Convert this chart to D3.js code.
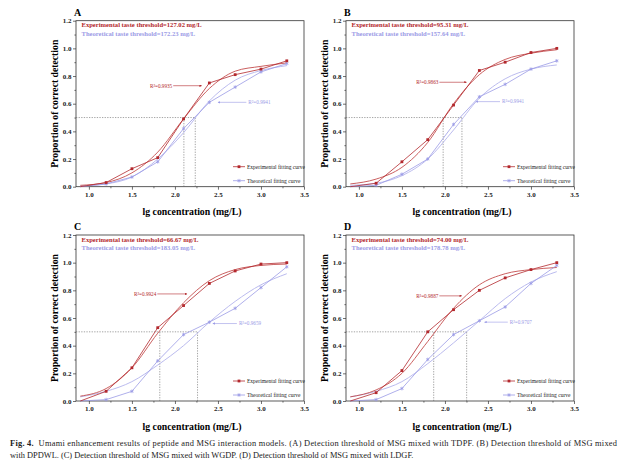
<!DOCTYPE html>
<html>
<head>
<meta charset="utf-8">
<script src="https://cdn.jsdelivr.net/npm/d3@7/dist/d3.min.js"></script>
<style>
  body { margin: 0; background: #fff; }
  svg text { font-family: "Liberation Serif", "Times New Roman", serif; }
</style>
</head>
<body>
<svg id="chart" width="624" height="464"></svg>
<script>
// lg concentration of the tested solutions
const lgConc = [0.9, 1.2, 1.5, 1.8, 2.1, 2.4, 2.7, 3.0, 3.3]
const xTicks = [1.0, 1.5, 2.0, 2.5, 3.0, 3.5]
const yTicks = [0.0, 0.2, 0.4, 0.6, 0.8, 1.0, 1.2]

// measured proportions (points)
const expA = [0.0, 0.03, 0.13, 0.21, 0.49, 0.75, 0.81, 0.85, 0.91]
const theoA = [0.0, 0.02, 0.07, 0.18, 0.42, 0.61, 0.72, 0.83, 0.89]
const expB = [0.0, 0.025, 0.18, 0.34, 0.59, 0.84, 0.90, 0.97, 1.0]
const theoB = [0.0, 0.01, 0.09, 0.20, 0.45, 0.65, 0.74, 0.85, 0.91]
const expC = [0.0, 0.07, 0.24, 0.53, 0.69, 0.85, 0.94, 0.99, 1.0]
const theoC = [0.0, 0.01, 0.07, 0.29, 0.48, 0.57, 0.67, 0.82, 0.97]
const expD = [0.0, 0.06, 0.22, 0.50, 0.66, 0.80, 0.89, 0.95, 1.0]
const theoD = [0.0, 0.01, 0.09, 0.30, 0.48, 0.58, 0.68, 0.85, 0.98]

// fitting curves at the same lg concentrations
const expFitA = [0.01, 0.03, 0.10, 0.25, 0.49, 0.71, 0.835, 0.87, 0.895]
const theoFitA = [0.005, 0.02, 0.07, 0.20, 0.39, 0.62, 0.77, 0.84, 0.875]
const expFitB = [0.02, 0.055, 0.14, 0.32, 0.60, 0.81, 0.92, 0.965, 0.99]
const theoFitB = [0.01, 0.025, 0.08, 0.20, 0.41, 0.64, 0.78, 0.85, 0.88]
const expFitC = [0.035, 0.09, 0.24, 0.49, 0.71, 0.87, 0.95, 0.98, 0.99]
const theoFitC = [0.03, 0.07, 0.14, 0.26, 0.40, 0.57, 0.72, 0.84, 0.92]
const expFitD = [0.03, 0.08, 0.20, 0.43, 0.67, 0.84, 0.92, 0.95, 0.965]
const theoFitD = [0.03, 0.07, 0.14, 0.27, 0.42, 0.58, 0.74, 0.86, 0.935]

// thresholds (mg/L) and fit R2
const expThreshold = [127.02, 95.31, 66.67, 74.00]
const theoThreshold = [172.23, 157.64, 183.05, 178.78]
const expR2 = ['0.9935', '0.9863', '0.9924', '0.9887']
const theoR2 = ['0.9941', '0.9941', '0.9659', '0.9707']
// R2 arrows: [x start, x end, y]
const expArrow = [[1.98, 2.31, 0.73], [1.935, 2.25, 0.755], [1.795, 2.14, 0.774], [1.935, 2.195, 0.76]]
const theoArrow = [[2.83, 2.50, 0.61], [2.64, 2.36, 0.615], [2.72, 2.44, 0.56], [2.73, 2.46, 0.57]]

const panelNames = ['A', 'B', 'C', 'D']

const red = '#b3282d'
const redFit = '#c44d4d'
const blue = '#9b9be6'
const blueFit = '#b3b3ec'

const W = 228
const H = 166
const spots = [[76, 20.7], [346, 20.7], [76, 235], [346, 235]]

const svg = d3.select('#chart')

const defs = svg.append('defs')
;[['ar-red', red], ['ar-blue', blue]].forEach(([id, c]) => {
  defs.append('marker')
    .attr('id', id)
    .attr('viewBox', '0 0 10 10')
    .attr('refX', 9).attr('refY', 5)
    .attr('markerWidth', 5).attr('markerHeight', 4)
    .attr('orient', 'auto')
    .append('path')
    .attr('d', 'M0,0 L10,5 L0,10 z')
    .attr('fill', c)
})

const x = d3.scaleLinear().domain([0.85, 3.5]).range([0, W])
const y = d3.scaleLinear().domain([0, 1.2]).range([H, 0])

const panels = panelNames.map((name, i) => ({
  name,
  left: spots[i][0],
  top: spots[i][1],
  exp: [expA, expB, expC, expD][i],
  theo: [theoA, theoB, theoC, theoD][i],
  expFit: [expFitA, expFitB, expFitC, expFitD][i],
  theoFit: [theoFitA, theoFitB, theoFitC, theoFitD][i],
  expThr: expThreshold[i],
  theoThr: theoThreshold[i],
  expR2: expR2[i],
  theoR2: theoR2[i],
  expArrow: expArrow[i],
  theoArrow: theoArrow[i]
}))

const polyLine = d3.line()
  .x(d => x(d[0]))
  .y(d => y(d[1]))
  .curve(d3.curveLinear)

const fitLine = d3.line()
  .x(d => x(d[0]))
  .y(d => y(d[1]))
  .curve(d3.curveMonotoneX)

const drawPanel = p => {
  const g = svg.append('g').attr('transform', 'translate(' + p.left + ',' + p.top + ')')

  // panel letter
  g.append('text')
    .attr('x', -2).attr('y', -5)
    .style('font-size', '10px').style('font-weight', 'bold')
    .text(p.name)

  // minor ticks
  const xMinor = d3.axisBottom(x).tickValues([1.25, 1.75, 2.25, 2.75, 3.25]).tickSize(1.6).tickFormat('')
  const yMinor = d3.axisLeft(y).tickValues([0.1, 0.3, 0.5, 0.7, 0.9, 1.1]).tickSize(1.6).tickFormat('')
  g.append('g').attr('transform', 'translate(0,' + H + ')').call(xMinor)
  g.append('g').call(yMinor)

  const xAxis = g.append('g')
    .attr('transform', 'translate(0,' + H + ')')
    .call(d3.axisBottom(x).tickValues(xTicks).tickSize(3).tickPadding(2).tickFormat(d3.format('.1f')))
  const yAxis = g.append('g')
    .call(d3.axisLeft(y).tickValues(yTicks).tickSize(3).tickPadding(1.5).tickFormat(d3.format('.1f')))
  ;[xAxis, yAxis].forEach(a => {
    a.attr('font-family', null).attr('font-size', null)
    a.selectAll('text').style('font-size', '7px').style('font-weight', 'bold').attr('fill', '#222')
  })
  g.selectAll('.domain').remove()
  g.selectAll('.tick line').attr('stroke', '#333').attr('stroke-width', 0.7)

  // frame
  g.append('rect')
    .attr('width', W).attr('height', H)
    .attr('fill', 'none').attr('stroke', '#333').attr('stroke-width', 0.8)

  // axis titles
  g.append('text')
    .attr('x', W / 2 + 2).attr('y', H + 28.5)
    .attr('text-anchor', 'middle')
    .style('font-size', '9.8px').style('font-weight', 'bold')
    .text('lg concentration (mg/L)')
  g.append('text')
    .attr('transform', 'translate(-18,' + (H / 2) + ') rotate(-90)')
    .attr('text-anchor', 'middle')
    .style('font-size', '9.7px').style('font-weight', 'bold')
    .text('Proportion of correct detection')

  // threshold guides
  const ex = Math.log10(p.expThr)
  const tx = Math.log10(p.theoThr)
  const guide = g.append('g')
    .attr('fill', 'none').attr('stroke', '#666')
    .attr('stroke-width', 0.6).attr('stroke-dasharray', '1.3,1.3')
  guide.append('line')
    .attr('x1', x(0.85)).attr('x2', x(Math.max(ex, tx)))
    .attr('y1', y(0.5)).attr('y2', y(0.5))
  ;[ex, tx].forEach(v => {
    guide.append('line')
      .attr('x1', x(v)).attr('x2', x(v))
      .attr('y1', y(0)).attr('y2', y(0.5))
  })

  // fitting curves
  g.append('path')
    .attr('d', fitLine(lgConc.map((c, i) => [c, p.theoFit[i]])))
    .attr('fill', 'none').attr('stroke', blueFit).attr('stroke-width', 0.9)
  g.append('path')
    .attr('d', fitLine(lgConc.map((c, i) => [c, p.expFit[i]])))
    .attr('fill', 'none').attr('stroke', redFit).attr('stroke-width', 0.9)

  // point lines
  const theoPts = lgConc.map((c, i) => [c, p.theo[i]])
  const expPts = lgConc.map((c, i) => [c, p.exp[i]])
  g.append('path')
    .attr('d', polyLine(theoPts))
    .attr('fill', 'none').attr('stroke', blue).attr('stroke-width', 0.8)
  g.append('path')
    .attr('d', polyLine(expPts))
    .attr('fill', 'none').attr('stroke', red).attr('stroke-width', 0.8)

  const star = d3.symbol().type(d3.symbolAsterisk).size(9)
  g.selectAll('.tp').data(theoPts.slice(1)).join('path')
    .attr('transform', d => 'translate(' + x(d[0]) + ',' + y(d[1]) + ')')
    .attr('d', star).attr('stroke', blue).attr('stroke-width', 0.8).attr('fill', 'none')
  g.selectAll('.ep').data(expPts.slice(1)).join('rect')
    .attr('x', d => x(d[0]) - 1.4).attr('y', d => y(d[1]) - 1.4)
    .attr('width', 2.8).attr('height', 2.8)
    .attr('fill', red)

  // header texts
  g.append('text')
    .attr('x', 5.5).attr('y', 6.8)
    .attr('fill', red)
    .style('font-size', '6.6px').style('font-weight', 'bold')
    .text('Experimental taste threshold=' + d3.format('.2f')(p.expThr) + ' mg/L')
  g.append('text')
    .attr('x', 5.5).attr('y', 15.2)
    .attr('fill', blue)
    .style('font-size', '6.6px').style('font-weight', 'bold')
    .text('Theoretical taste threshold=' + d3.format('.2f')(p.theoThr) + ' mg/L')

  // R2 annotations
  const ea = p.expArrow
  g.append('line')
    .attr('x1', x(ea[0])).attr('x2', x(ea[1]))
    .attr('y1', y(ea[2])).attr('y2', y(ea[2]))
    .attr('stroke', red).attr('stroke-width', 0.6)
    .attr('marker-end', 'url(#ar-red)')
  g.append('text')
    .attr('x', x(ea[0]) - 1).attr('y', y(ea[2]) + 1.8)
    .attr('text-anchor', 'end')
    .attr('fill', red)
    .style('font-size', '5.2px')
    .text('R\u00b2=' + p.expR2)
  const ta = p.theoArrow
  g.append('line')
    .attr('x1', x(ta[0])).attr('x2', x(ta[1]))
    .attr('y1', y(ta[2])).attr('y2', y(ta[2]))
    .attr('stroke', blue).attr('stroke-width', 0.6)
    .attr('marker-end', 'url(#ar-blue)')
  g.append('text')
    .attr('x', x(ta[0]) + 2).attr('y', y(ta[2]) + 1.8)
    .attr('fill', blue)
    .style('font-size', '5.2px')
    .text('R\u00b2=' + p.theoR2)

  // legend
  const leg = g.append('g').attr('transform', 'translate(157,146)')
  const items = [['Experimental fitting curve', red, 'rect'], ['Theoretical fitting curve', blue, 'star']]
  items.forEach(([label, c, mark], i) => {
    const row = leg.append('g').attr('transform', 'translate(0,' + (i * 14) + ')')
    row.append('line').attr('x1', 0).attr('x2', 12).attr('stroke', c).attr('stroke-width', 0.8)
    if (mark === 'rect') {
      row.append('rect').attr('x', 4.6).attr('y', -1.4).attr('width', 2.8).attr('height', 2.8).attr('fill', c)
    } else {
      row.append('path').attr('transform', 'translate(6,0)').attr('d', star)
        .attr('stroke', c).attr('stroke-width', 0.8).attr('fill', 'none')
    }
    row.append('text')
      .attr('x', 14).attr('y', 1.9)
      .attr('fill', '#222')
      .style('font-size', '5.5px')
      .text(label)
  })
}

panels.forEach(drawPanel)

// figure caption
const cap = svg.append('g').style('font-size', '8.4px').attr('fill', '#222')
const line1 = cap.append('text').attr('x', 10).attr('y', 446)
  .attr('textLength', 607).attr('lengthAdjust', 'spacing')
line1.append('tspan').style('font-weight', 'bold').text('Fig. 4.')
line1.append('tspan').text('\u00a0 Umami enhancement results of peptide and MSG interaction models. (A) Detection threshold of MSG mixed with TDPF. (B) Detection threshold of MSG mixed')
cap.append('text').attr('x', 10).attr('y', 458)
  .text('with DPDWL. (C) Detection threshold of MSG mixed with WGDP. (D) Detection threshold of MSG mixed with LDGF.')
</script>
</body>
</html>
